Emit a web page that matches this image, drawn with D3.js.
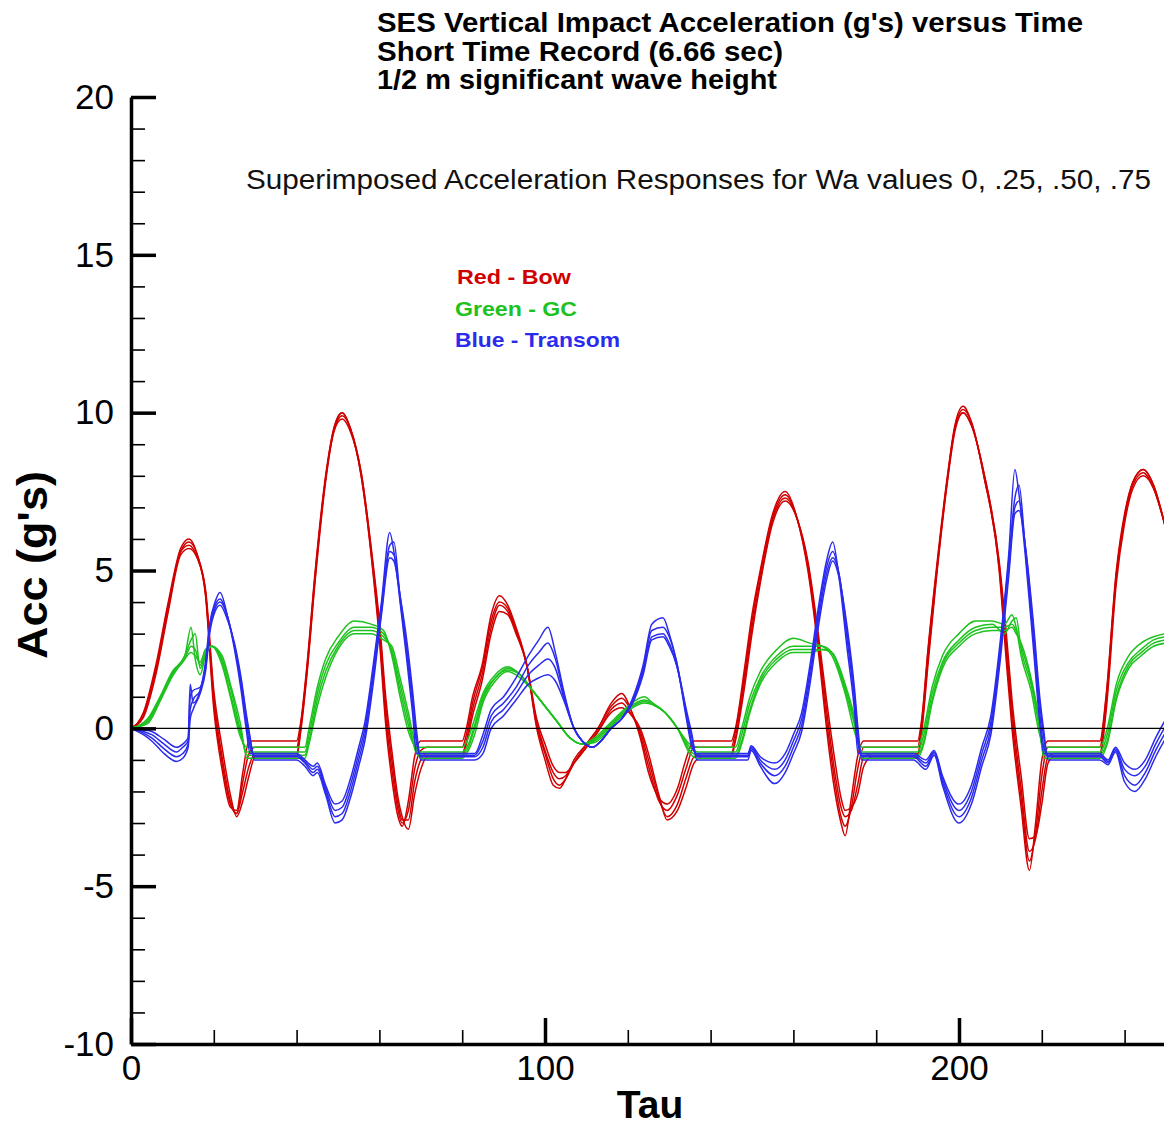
<!DOCTYPE html>
<html>
<head>
<meta charset="utf-8">
<script src="https://cdn.jsdelivr.net/npm/d3@7"></script>
<style>
  body { margin: 0; background: #fff; }
  text { font-family: "Liberation Sans", Arial, sans-serif; }
</style>
</head>
<body>
<div id="chart"></div>
<script>
// columns: tau, Wa=0, Wa=.25, Wa=.50, Wa=.75
var bowRows = [
  [0, 0, 0, 0, 0], [3, 0.5, 0.45, 0.4, 0.35], [6, 2.0, 1.9, 1.8, 1.7], [9, 4.0, 3.9, 3.8, 3.7],
  [12, 5.7, 5.6, 5.6, 5.5], [14, 6.0, 5.9, 5.8, 5.7], [16, 5.5, 5.5, 5.4, 5.4], [18, 4.2, 4.3, 4.3, 4.4],
  [20, 0.6, 0.8, 1.0, 1.2], [22, -1.3, -1.1, -0.9, -0.6], [24, -2.5, -2.4, -2.3, -2.1],
  [25.5, -2.6, -2.7, -2.7, -2.8], [27, -1.4, -1.7, -2.0, -2.3], [28.5, -0.4, -0.8, -1.2, -1.5],
  [30, -0.4, -0.6, -0.8, -0.9], [40, -0.4, -0.6, -0.8, -0.9], [41, 0.2, 0.1, 0.0, -0.1],
  [42.5, 2.0, 1.9, 1.8, 1.7], [44.5, 5.0, 4.9, 4.8, 4.7], [47, 8.0, 7.9, 7.9, 7.8],
  [49, 9.5, 9.5, 9.4, 9.4], [51, 10.0, 10.0, 9.9, 9.8], [53, 9.5, 9.5, 9.5, 9.4],
  [55.6, 8.0, 8.0, 8.1, 8.1], [58.4, 5.0, 5.1, 5.2, 5.3], [60, 2.8, 3.0, 3.2, 3.4],
  [61.6, 0, 0.3, 0.6, 0.9], [63, -1.6, -1.3, -1.0, -0.7], [64.5, -2.8, -2.6, -2.4, -2.2],
  [65.5, -3.1, -3.0, -2.9, -2.8], [67, -2.3, -2.6, -2.9, -3.2], [68.5, -0.9, -1.3, -1.7, -2.1],
  [70, -0.4, -0.7, -1.0, -1.3], [71.5, -0.4, -0.6, -0.8, -0.9], [80, -0.4, -0.6, -0.8, -0.9],
  [81, 0, -0.2, -0.4, -0.5], [82.5, 1.0, 0.8, 0.6, 0.4], [84.8, 2.0, 1.9, 1.7, 1.5],
  [87, 3.6, 3.4, 3.2, 3.0], [89, 4.2, 4.0, 3.9, 3.7], [91, 3.9, 3.8, 3.7, 3.6],
  [93, 3.2, 3.1, 3.1, 3.0], [95.6, 2.0, 2.0, 2.0, 2.0], [98, 0, 0.1, 0.2, 0.3],
  [100, -1.0, -0.8, -0.7, -0.5], [102, -1.8, -1.6, -1.4, -1.2], [103.5, -1.9, -1.8, -1.6, -1.4],
  [105, -1.6, -1.6, -1.5, -1.4], [107, -1.0, -1.1, -1.1, -1.1], [110, -0.5, -0.5, -0.6, -0.6],
  [112.8, 0, 0, -0.1, -0.1], [116, 0.8, 0.7, 0.6, 0.5], [118.5, 1.1, 0.95, 0.8, 0.65],
  [121, 0.5, 0.5, 0.4, 0.4], [123, -0.3, -0.2, -0.1, 0], [125, -1.4, -1.2, -1.0, -0.8],
  [127.5, -2.2, -2.3, -2.2, -2.1], [129.5, -2.4, -2.6, -2.8, -2.9], [132, -1.9, -2.1, -2.4, -2.6],
  [134, -1.0, -1.3, -1.6, -1.9], [136, -0.4, -0.6, -0.9, -1.1], [138, -0.4, -0.6, -0.8, -0.9],
  [145, -0.4, -0.6, -0.8, -0.9], [146, 0, -0.1, -0.3, -0.4], [148.3, 2.0, 1.8, 1.6, 1.4],
  [150, 3.6, 3.4, 3.2, 3.0], [152, 5.0, 4.9, 4.7, 4.6], [155, 6.8, 6.7, 6.6, 6.5],
  [158, 7.5, 7.4, 7.3, 7.2], [161, 6.6, 6.6, 6.6, 6.6], [163.5, 5.0, 5.1, 5.2, 5.3],
  [166.4, 2.0, 2.2, 2.4, 2.6], [168, 0, 0.3, 0.6, 0.9], [170, -2.0, -1.7, -1.4, -1.0],
  [171.5, -3.0, -2.8, -2.5, -2.2], [172.5, -3.4, -3.1, -2.8, -2.6], [174, -2.2, -2.5, -2.6, -2.5],
  [175.5, -0.9, -1.3, -1.8, -2.1], [177, -0.4, -0.6, -0.9, -1.2], [179, -0.4, -0.6, -0.8, -0.9],
  [190, -0.4, -0.6, -0.8, -0.9], [191, 0.3, 0.2, 0.0, -0.1], [192.5, 2.5, 2.4, 2.2, 2.0],
  [194.5, 5.0, 4.9, 4.8, 4.7], [197.2, 8.0, 7.9, 7.9, 7.8], [199, 9.6, 9.5, 9.5, 9.4],
  [201, 10.2, 10.1, 10.0, 10.0], [203, 9.7, 9.7, 9.6, 9.6], [206, 8.0, 8.0, 8.1, 8.1],
  [209.7, 5.0, 5.1, 5.2, 5.3], [211.5, 2.0, 2.3, 2.6, 2.9], [212.8, 0, 0.3, 0.6, 0.9],
  [215, -2.5, -2.2, -1.9, -1.5], [217, -4.5, -4.2, -3.9, -3.5], [218.5, -3.0, -3.3, -3.5, -3.4],
  [220, -1.0, -1.5, -2.0, -2.4], [221.5, -0.4, -0.6, -0.9, -1.1], [223, -0.4, -0.6, -0.8, -0.9],
  [234, -0.4, -0.6, -0.8, -0.9], [235.5, 1.0, 0.9, 0.7, 0.5], [238, 5.0, 4.9, 4.8, 4.6],
  [240, 6.8, 6.7, 6.6, 6.5], [242, 7.8, 7.8, 7.7, 7.6], [244.5, 8.2, 8.2, 8.1, 8.0],
  [247, 7.7, 7.7, 7.6, 7.6], [250, 6.3, 6.3, 6.3, 6.3]
];

var gcRows = [
  [0, 0, 0, 0, 0], [4, 0.3, 0.25, 0.2, 0.15], [7, 1.0, 0.95, 0.9, 0.85], [10, 1.8, 1.75, 1.7, 1.65],
  [13, 2.3, 2.3, 2.2, 2.2], [14.5, 3.2, 2.8, 2.6, 2.4], [15.5, 2.2, 3.0, 2.5, 2.3],
  [16.7, 1.7, 1.9, 2.0, 2.1], [18, 2.3, 2.4, 2.5, 2.5], [19.5, 2.6, 2.6, 2.6, 2.6],
  [22, 2.0, 2.1, 2.2, 2.3], [24, 1.0, 1.1, 1.3, 1.4], [26.5, -0.3, -0.2, -0.1, 0.1],
  [28, -0.6, -0.75, -0.85, -0.95], [42, -0.6, -0.75, -0.85, -0.95], [43, 0, -0.2, -0.4, -0.5],
  [45, 1.3, 1.1, 0.9, 0.7], [47, 2.2, 2.0, 1.8, 1.6], [50, 2.9, 2.7, 2.6, 2.5],
  [54, 3.4, 3.2, 3.1, 3.0], [58, 3.3, 3.2, 3.1, 3.0], [61, 3.1, 3.0, 2.9, 2.8],
  [63, 2.3, 2.4, 2.5, 2.6], [65, 1.0, 1.2, 1.4, 1.6], [67, -0.1, 0.1, 0.3, 0.5],
  [69, -0.6, -0.7, -0.8, -0.7], [70, -0.6, -0.75, -0.85, -0.95], [80, -0.6, -0.75, -0.85, -0.95],
  [81.5, -0.3, -0.5, -0.6, -0.7], [83, 0.3, 0.1, 0, -0.2], [85, 1.1, 1.0, 0.9, 0.8],
  [88, 1.7, 1.6, 1.6, 1.5], [91, 1.95, 1.9, 1.85, 1.8], [94, 1.7, 1.7, 1.7, 1.6],
  [97, 1.2, 1.2, 1.2, 1.2], [100, 0.7, 0.7, 0.7, 0.7], [103, 0.2, 0.2, 0.2, 0.2],
  [106, -0.3, -0.3, -0.3, -0.3], [109, -0.5, -0.5, -0.5, -0.5], [112, -0.3, -0.35, -0.4, -0.45],
  [116, 0.2, 0.15, 0.1, 0.05], [120, 0.7, 0.65, 0.6, 0.55], [124, 1.0, 0.9, 0.85, 0.8],
  [126, 0.8, 0.8, 0.75, 0.75], [129, 0.5, 0.5, 0.5, 0.5], [132, 0, 0, 0, 0],
  [135, -0.5, -0.6, -0.7, -0.8], [137, -0.6, -0.75, -0.85, -0.95], [146, -0.6, -0.75, -0.85, -0.95],
  [147.5, 0, -0.2, -0.4, -0.5], [149.5, 1.0, 0.8, 0.6, 0.5], [152, 1.8, 1.6, 1.5, 1.4],
  [156, 2.5, 2.3, 2.2, 2.1], [160, 2.85, 2.6, 2.5, 2.4], [164, 2.7, 2.6, 2.5, 2.4],
  [167, 2.6, 2.6, 2.5, 2.5], [169.3, 2.3, 2.4, 2.4, 2.4], [172.5, 1.1, 1.2, 1.3, 1.4],
  [175, -0.2, 0, 0.1, 0.2], [176.5, -0.6, -0.75, -0.85, -0.95], [190, -0.6, -0.75, -0.85, -0.95],
  [191.5, 0, -0.2, -0.4, -0.5], [193.5, 1.3, 1.1, 0.9, 0.8], [196, 2.3, 2.1, 2.0, 1.9],
  [200, 3.0, 2.8, 2.7, 2.6], [204, 3.4, 3.2, 3.1, 3.0], [208, 3.4, 3.3, 3.2, 3.1],
  [211, 3.3, 3.0, 3.2, 3.1], [212.8, 3.6, 3.4, 3.3, 3.2], [213.8, 3.2, 3.5, 3.1, 3.0],
  [215, 2.3, 2.5, 2.6, 2.7], [217.4, 1.2, 1.4, 1.5, 1.6], [219.3, -0.1, 0.1, 0.2, 0.3],
  [220.5, -0.6, -0.75, -0.85, -0.95], [234, -0.6, -0.75, -0.85, -0.95], [235.8, 0, -0.2, -0.4, -0.5],
  [238, 1.4, 1.2, 1.0, 0.9], [241, 2.3, 2.1, 2.0, 1.9], [244, 2.7, 2.5, 2.4, 2.3],
  [247, 2.9, 2.8, 2.7, 2.6], [250, 3.0, 2.9, 2.8, 2.7]
];

var transomRows = [
  [0, 0, 0, 0, 0], [3, -0.05, -0.1, -0.15, -0.2], [5, -0.1, -0.2, -0.3, -0.4],
  [8, -0.35, -0.5, -0.65, -0.8], [11, -0.6, -0.75, -0.9, -1.05], [12.5, -0.5, -0.6, -0.8, -0.95],
  [13.8, -0.3, -0.4, -0.5, -0.6], [14.3, 1.4, 1.0, 0.6, 0.3], [15, 0.8, 1.2, 0.9, 0.6],
  [16.7, 1.2, 1.3, 1.2, 1.1], [18, 2.1, 2.0, 1.9, 1.8], [19, 3.3, 3.2, 3.1, 3.0],
  [20.3, 4.0, 3.9, 3.8, 3.7], [21.5, 4.3, 4.1, 4.0, 3.9], [23.4, 3.5, 3.5, 3.5, 3.4],
  [25, 2.5, 2.6, 2.6, 2.7], [26.6, 1.2, 1.4, 1.5, 1.6], [27.8, 0, 0.2, 0.4, 0.5],
  [28.8, -0.8, -0.6, -0.4, -0.3], [29.8, -0.8, -0.85, -0.9, -1.0], [40, -0.8, -0.85, -0.9, -1.0],
  [42, -1.0, -1.05, -1.1, -1.2], [44, -1.2, -1.3, -1.4, -1.5], [45, -1.1, -1.2, -1.3, -1.4],
  [47, -1.8, -1.9, -2.0, -2.1], [49.3, -2.4, -2.6, -2.8, -3.0], [51, -2.3, -2.5, -2.7, -2.9],
  [53, -1.6, -1.8, -2.0, -2.2], [55, -0.6, -0.8, -1.0, -1.2], [56.5, 0.2, 0, -0.2, -0.4],
  [58.5, 2.0, 1.8, 1.6, 1.4], [60.5, 4.0, 3.9, 3.7, 3.6], [62.5, 6.2, 5.8, 5.6, 5.4],
  [63.5, 5.6, 5.9, 5.5, 5.3], [65, 4.0, 4.1, 4.2, 4.2], [66.5, 2.3, 2.5, 2.7, 2.9],
  [68, 0.5, 0.8, 1.0, 1.2], [69, -0.8, -0.5, -0.3, -0.1], [70, -0.8, -0.85, -0.9, -1.0],
  [83, -0.8, -0.85, -0.9, -1.0], [85, -0.2, -0.4, -0.6, -0.8], [87, 0.6, 0.4, 0.2, 0],
  [90, 1.0, 0.8, 0.6, 0.4], [93, 1.6, 1.3, 1.1, 0.9], [96, 2.3, 2.0, 1.7, 1.4],
  [98.5, 2.8, 2.4, 2.0, 1.6], [100.7, 3.2, 2.7, 2.2, 1.7], [102.5, 2.4, 2.2, 1.9, 1.5],
  [104.5, 1.2, 1.1, 1.0, 0.9], [107, 0, 0, 0, 0], [109, -0.4, -0.4, -0.4, -0.4],
  [111.5, -0.6, -0.6, -0.6, -0.6], [113.5, -0.4, -0.4, -0.4, -0.4], [116, 0, 0, 0, 0],
  [118.5, 0.3, 0.3, 0.3, 0.3], [121, 0.9, 0.85, 0.8, 0.75], [123.7, 2.0, 1.9, 1.8, 1.7],
  [125.8, 3.3, 3.1, 2.9, 2.8], [128.5, 3.5, 3.2, 3.0, 2.9], [130, 3.0, 2.9, 2.7, 2.6],
  [131.8, 2.1, 2.1, 2.0, 2.0], [134.3, 0.2, 0.3, 0.4, 0.5], [135.5, -0.6, -0.5, -0.3, -0.2],
  [136.7, -0.8, -0.85, -0.9, -1.0], [149, -0.8, -0.85, -0.9, -1.0], [149.8, -0.55, -0.6, -0.65, -0.7],
  [152, -0.9, -1.0, -1.1, -1.2], [155.5, -1.1, -1.3, -1.5, -1.75], [158, -0.8, -1.0, -1.2, -1.4],
  [160, -0.2, -0.4, -0.6, -0.8], [162, 0.5, 0.3, 0.1, -0.1], [164, 2.0, 1.8, 1.6, 1.4],
  [166, 3.8, 3.6, 3.4, 3.2], [168, 5.3, 5.1, 4.9, 4.7], [169.5, 5.9, 5.6, 5.4, 5.3],
  [171, 4.8, 4.9, 4.9, 4.8], [173, 2.5, 2.8, 3.0, 3.2], [174.8, 0.5, 0.8, 1.0, 1.2],
  [175.6, -0.8, -0.5, -0.2, 0], [176.5, -0.8, -0.85, -0.9, -1.0], [189, -0.8, -0.85, -0.9, -1.0],
  [192, -1.0, -1.1, -1.2, -1.3], [194, -0.7, -0.75, -0.8, -0.85], [196, -1.5, -1.6, -1.7, -1.8],
  [200, -2.4, -2.6, -2.8, -3.0], [203, -1.8, -2.0, -2.2, -2.4], [205.5, -0.6, -0.8, -1.0, -1.2],
  [207.7, 0.4, 0.2, 0, -0.2], [210, 2.8, 2.6, 2.4, 2.2], [212, 5.5, 5.3, 5.0, 4.8],
  [213.5, 8.2, 7.3, 7.0, 6.8], [214.5, 7.4, 7.7, 7.2, 6.9], [216, 5.5, 5.7, 5.8, 5.8],
  [218, 2.5, 2.8, 3.1, 3.3], [219.5, 0.2, 0.5, 0.8, 1.0], [220.5, -0.8, -0.6, -0.3, -0.1],
  [221.5, -0.8, -0.85, -0.9, -1.0], [234, -0.8, -0.85, -0.9, -1.0], [236, -1.0, -1.05, -1.1, -1.15],
  [237.8, -0.6, -0.65, -0.7, -0.75], [240, -1.1, -1.3, -1.5, -1.7], [242.5, -1.3, -1.5, -1.8, -2.0],
  [245, -1.0, -1.2, -1.4, -1.6], [247.5, -0.3, -0.5, -0.7, -0.9], [250, 0.3, 0.1, -0.1, -0.3]
];

var waValues = [0, 0.25, 0.50, 0.75];
var yMajor = [-10, -5, 0, 5, 10, 15, 20];
var xMajor = [0, 100, 200];
var titleLines = [
  "SES Vertical Impact Acceleration (g's) versus Time",
  "Short Time Record (6.66 sec)",
  "1/2 m significant wave height"
];
var subtitle = "Superimposed Acceleration Responses for Wa values 0, .25, .50, .75";
var legendItems = ["Red - Bow", "Green - GC", "Blue - Transom"];

var width = 1164, height = 1125;
var colors = ["#d00000", "#1ec21e", "#2b2bee"];

var svg = d3.select("#chart")
  .append("svg")
  .attr("width", width)
  .attr("height", height);

var x = d3.scaleLinear().domain([0, 250]).range([131, 1166]);
var y = d3.scaleLinear().domain([-10, 20]).range([1044, 97]);

svg.append("defs").append("clipPath").attr("id", "plot")
  .append("rect").attr("x", 131).attr("y", 90).attr("width", width - 131).attr("height", 960);

var line = d3.line()
  .x(function (d) { return x(d[0]); })
  .y(function (d) { return y(d[1]); })
  .curve(d3.curveMonotoneX);

var groups = [bowRows, gcRows, transomRows];
var plot = svg.append("g").attr("clip-path", "url(#plot)");

groups.forEach(function (rows, gi) {
  waValues.forEach(function (wa, wi) {
    plot.append("path")
      .datum(rows.map(function (r) { return [r[0], r[wi + 1]]; }))
      .attr("fill", "none")
      .attr("stroke", colors[gi])
      .attr("stroke-width", 1.5)
      .attr("d", line);
  });
});

// zero line
plot.append("line")
  .attr("x1", x(0)).attr("x2", x(250))
  .attr("y1", y(0)).attr("y2", y(0))
  .attr("stroke", "black")
  .attr("stroke-width", 1.4);

// y axis
var yMinor = d3.range(-10, 21, 1).filter(function (v) { return yMajor.indexOf(v) < 0; });
svg.append("g").attr("transform", "translate(131,0)")
  .call(d3.axisLeft(y).tickValues(yMinor).tickSize(-14).tickFormat(""))
  .call(function (g) { g.select(".domain").remove(); })
  .selectAll("line").attr("stroke-width", 1.6);

var yAxis = svg.append("g").attr("transform", "translate(131,0)")
  .call(d3.axisLeft(y).tickValues(yMajor).tickSize(-25).tickSizeOuter(0).tickPadding(17)
    .tickFormat(function (d) { return String(d); }));
yAxis.select(".domain").attr("stroke-width", 3.5);
yAxis.selectAll(".tick line").attr("stroke-width", 3.5);
yAxis.selectAll("text").attr("font-size", 35).attr("fill", "#000")
  .style("font-family", "'Liberation Sans', Arial, sans-serif");

// x axis
var xMinor = d3.range(20, 250, 20).filter(function (v) { return xMajor.indexOf(v) < 0; });
svg.append("g").attr("transform", "translate(0,1044)")
  .call(d3.axisBottom(x).tickValues(xMinor).tickSize(-14).tickFormat(""))
  .call(function (g) { g.select(".domain").remove(); })
  .selectAll("line").attr("stroke-width", 1.6);

var xAxis = svg.append("g").attr("transform", "translate(0,1044)")
  .call(d3.axisBottom(x).tickValues(xMajor).tickSize(-26).tickSizeOuter(0).tickPadding(11)
    .tickFormat(function (d) { return String(d); }));
xAxis.select(".domain").attr("stroke-width", 3.5);
xAxis.selectAll(".tick line").attr("stroke-width", 3.5);
xAxis.selectAll("text").attr("font-size", 35).attr("fill", "#000")
  .style("font-family", "'Liberation Sans', Arial, sans-serif");

// axis titles
svg.append("text")
  .attr("x", 650).attr("y", 1118)
  .attr("text-anchor", "middle")
  .attr("font-size", 39).attr("font-weight", "bold")
  .text("Tau");

svg.append("text")
  .attr("transform", "translate(47,565) rotate(-90)")
  .attr("text-anchor", "middle")
  .attr("font-size", 43).attr("font-weight", "bold")
  .attr("textLength", 188).attr("lengthAdjust", "spacingAndGlyphs")
  .text("Acc (g's)");

// titles
var titleWidths = [706, 406, 400];
titleLines.forEach(function (t, i) {
  svg.append("text")
    .attr("x", 377).attr("y", 32 + i * 28.5)
    .attr("font-size", 27).attr("font-weight", "bold")
    .attr("textLength", titleWidths[i]).attr("lengthAdjust", "spacingAndGlyphs")
    .text(t);
});

svg.append("text")
  .attr("x", 246).attr("y", 189)
  .attr("font-size", 27)
  .attr("textLength", 905).attr("lengthAdjust", "spacingAndGlyphs")
  .attr("fill", "#111")
  .text(subtitle);

// legend
var legendWidths = [114, 122, 165];
legendItems.forEach(function (t, i) {
  svg.append("text")
    .attr("x", i === 0 ? 457 : 455).attr("y", 284 + i * 31.5)
    .attr("font-size", 21).attr("font-weight", "bold")
    .attr("fill", colors[i])
    .attr("textLength", legendWidths[i]).attr("lengthAdjust", "spacingAndGlyphs")
    .text(t);
});
</script>
</body>
</html>
